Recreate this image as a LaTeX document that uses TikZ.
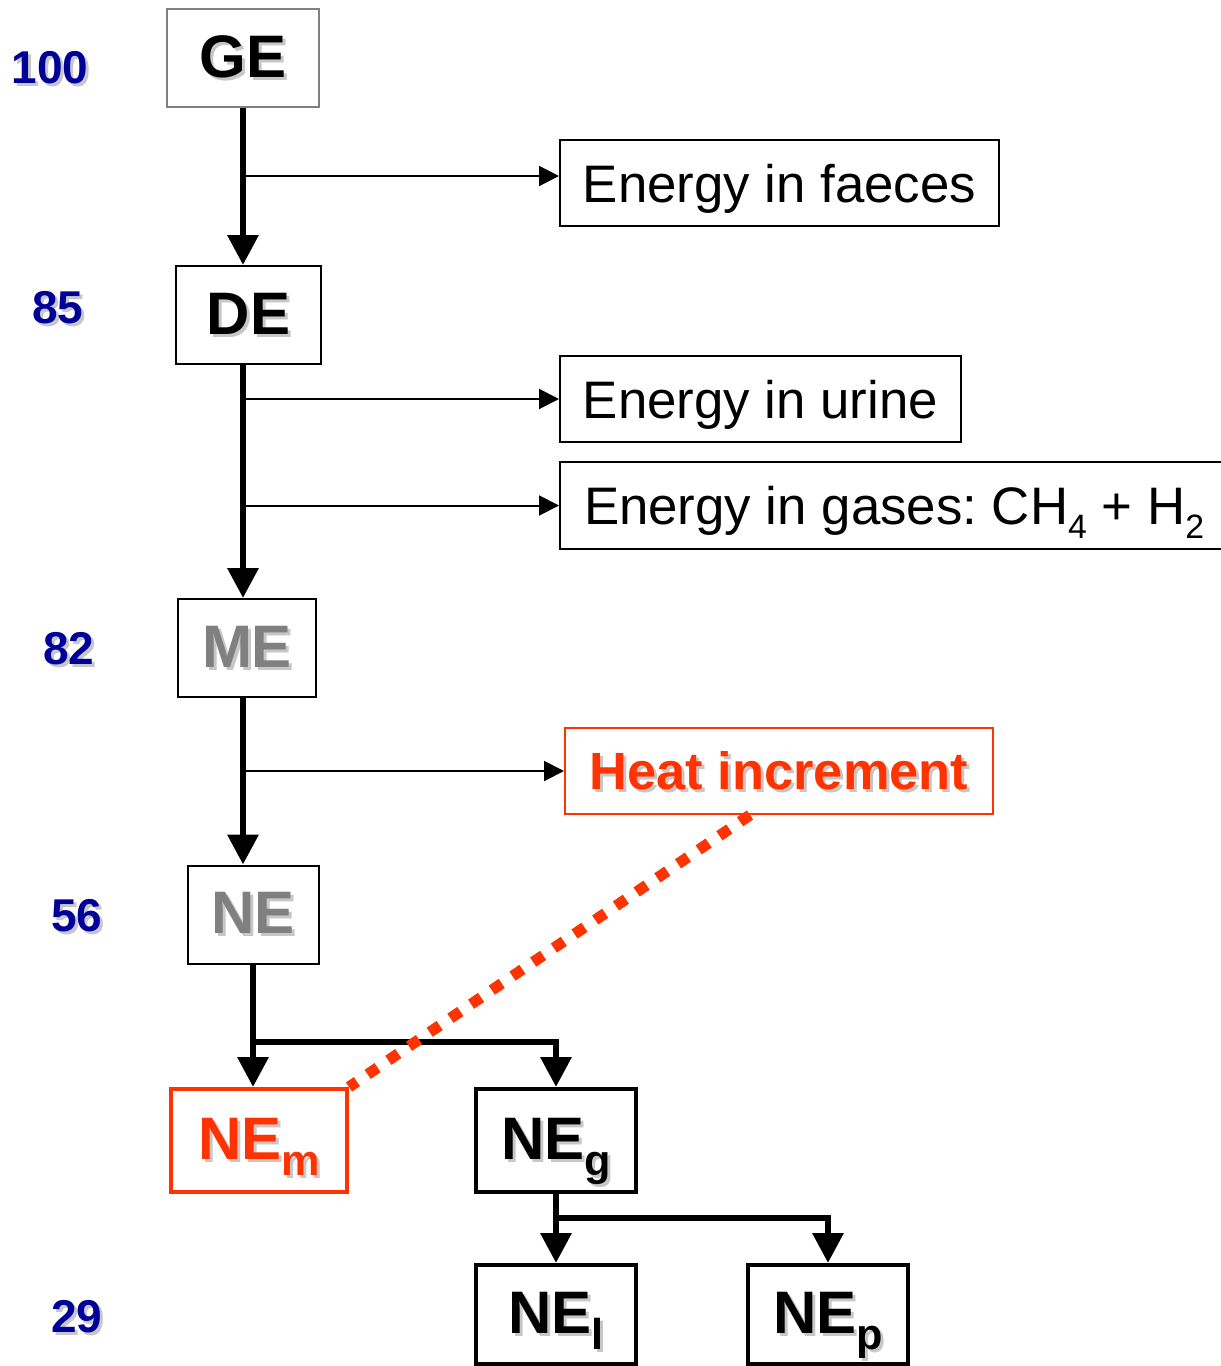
\documentclass[tikz,border=0pt]{standalone}
\usepackage{fontspec}
\setmainfont{Liberation Sans}
\usetikzlibrary{arrows.meta, calc}
\definecolor{numblue}{HTML}{000099}
\definecolor{hired}{HTML}{FF3300}
\definecolor{megray}{HTML}{808080}
\newcommand{\shad}[1]{\rlap{\kern1.5pt\raisebox{-1.5pt}{\color{black!22}#1}}#1}
\newcommand{\lowsub}[2][0.72]{\raisebox{-0.27em}[0pt][0pt]{\scalebox{#1}{#2}}}

\begin{document}
\begin{tikzpicture}[x=0.5pt, y=-0.5pt,
    every node/.style={inner sep=0pt},
    energybox/.style={draw=black, line width=1pt, minimum height=49pt, font=\fontsize{30}{36}\selectfont\bfseries},
    netbox/.style={draw=black, line width=2pt, minimum width=80pt, minimum height=51.5pt, font=\fontsize{30}{36}\selectfont\bfseries},
    lossbox/.style={draw=black, line width=1pt, minimum height=43pt, text depth=0pt, font=\fontsize{26.4}{30}\selectfont},
    pct/.style={text=numblue, font=\fontsize{23}{27}\selectfont\bfseries},
    mainarrow/.style={line width=3.2pt, -{Triangle[length=15pt, width=15pt]}},
    lossarrow/.style={line width=1pt, -{Triangle[length=10pt, width=10pt]}}]
    \useasboundingbox (0,0) rectangle (1221,1366);

    % percentages
    \node[pct] (p100) at (50,69) {\shad{100}};
    \node[pct] (p85) at (58,309) {\shad{85}};
    \node[pct] (p82) at (69,650) {\shad{82}};
    \node[pct] (p56) at (77,917) {\shad{56}};
    \node[pct] (p29) at (77,1318) {\shad{29}};

    % energy chain
    \node[energybox, draw=megray, minimum width=76pt] (ge) at (243,58) {\shad{GE}};
    \node[energybox, minimum width=72.5pt] (de) at (248.5,315) {\shad{DE}};
    \node[energybox, minimum width=69pt, text=megray] (me) at (247,648) {\shad{ME}};
    \node[energybox, minimum width=65.5pt, text=megray] (ne) at (253,914.5) {\shad{NE}};

    % losses
    \node[lossbox, minimum width=219.5pt] (faeces) at (779.5,183) {Energy in faeces};
    \node[lossbox, minimum width=200.5pt] (urine) at (760.5,399) {Energy in urine};
    \node[lossbox, minimum height=43.5pt, inner xsep=12pt] (gases) at (892,505.5)
      {\makebox[308pt][l]{Energy in gases:\ CH\lowsub[0.64]{4} + H\lowsub[0.64]{2}}};
    \node[lossbox, draw=hired, text=hired, minimum width=214pt, font=\fontsize{26.2}{30}\selectfont\bfseries] (heat) at (779,771) {\shad{Heat increment}};

    % net energy
    \node[netbox, draw=hired, text=hired, minimum width=88pt] (nem) at (259,1140.5) {\shad{NE\lowsub{m}}};
    \node[netbox] (neg) at (556,1140.5) {\shad{NE\lowsub{g}}};
    \node[netbox, minimum height=49.5pt] (nel) at (556,1314.5) {\shad{NE\lowsub{l}}};
    \node[netbox, minimum height=49.5pt] (nep) at (828,1314.5) {\shad{NE\lowsub{p}}};

    \coordinate (nesplit) at (0,1042);
    \coordinate (negsplit) at (0,1218);

    \draw[mainarrow] (ge.south) -- (ge.south |- de.north);
    \draw[mainarrow] (ge.south |- de.south) -- (ge.south |- me.north);
    \draw[mainarrow] (ge.south |- me.south) -- (ge.south |- ne.north);
    \draw[lossarrow] ([yshift=3.5pt]ge.south |- faeces.west) -- ([yshift=3.5pt]faeces.west);
    \draw[lossarrow] (ge.south |- urine.west) -- (urine.west);
    \draw[lossarrow] (ge.south |- gases.west) -- (gases.west);
    \draw[lossarrow] (ge.south |- heat.west) -- (heat.west);

    \draw[mainarrow] (ne.south) -- (ne.south |- nem.north);
    \draw[mainarrow] (ne.south |- nesplit) -| (neg.north);
    \draw[mainarrow] (neg.south) -- (nel.north);
    \draw[mainarrow] (neg.south |- negsplit) -| (nep.north);

    \draw[hired, line width=5.5pt, dash pattern=on 6pt off 6.5pt] ($(heat.south)+(-29,0)$) -- (nem.north east);
\end{tikzpicture}
\end{document}
